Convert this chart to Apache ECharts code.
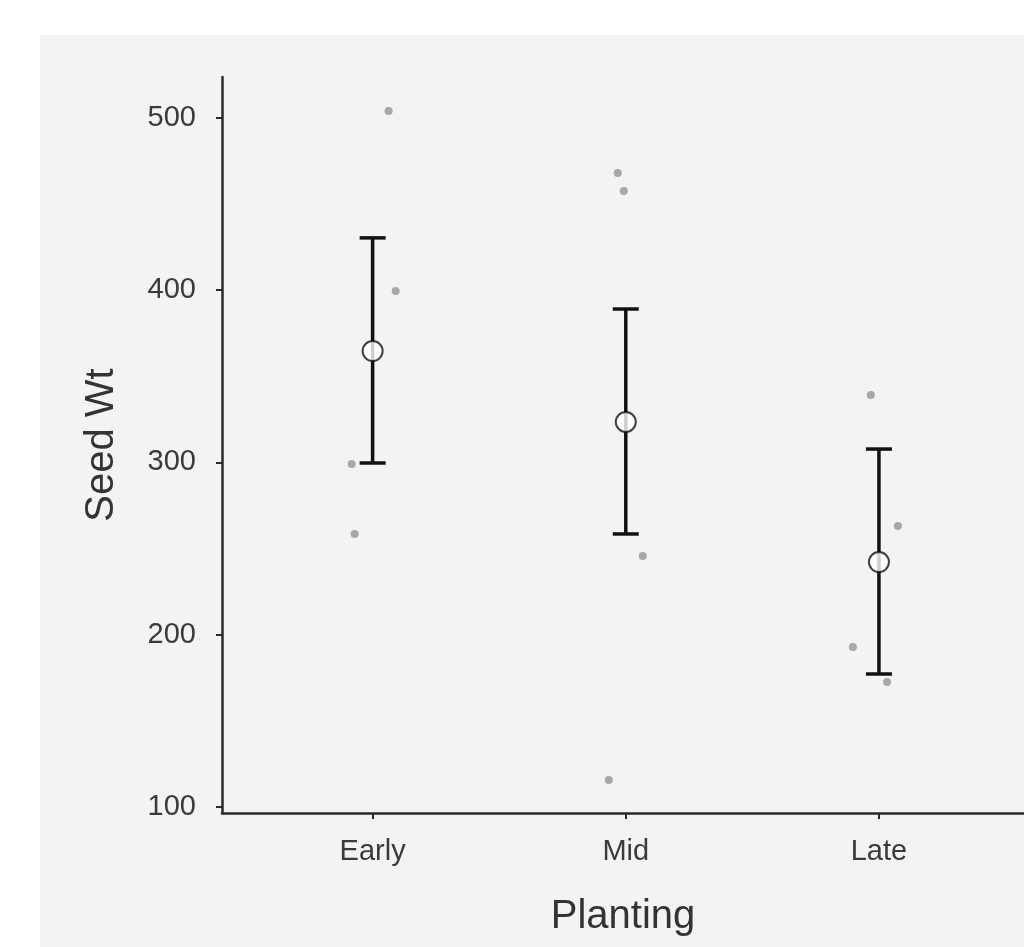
<!DOCTYPE html>
<html>
<head>
<meta charset="utf-8">
<script src="https://cdn.jsdelivr.net/npm/echarts@6/dist/echarts.min.js"></script>
<style>
  html, body { margin: 0; padding: 0; background: #fff; }
  #panel { position: absolute; left: 40px; top: 35px; width: 984px; height: 912px; background: #f3f2f4; }
  #chart { position: absolute; left: 0; top: 0; width: 1024px; height: 947px; }
</style>
</head>
<body>
<div id="panel"></div>
<div id="chart"></div>
<script>
var categories = ['Early', 'Mid', 'Late'];
// raw observations per planting group
var seedEarly = [504.1, 399.6, 299.1, 258.5];
var seedMid = [468.1, 457.6, 245.7, 115.7];
var seedLate = [339.2, 263.1, 192.9, 172.6];
// horizontal jitter of the raw points (category units)
var jitterEarly = [0.063, 0.091, -0.083, -0.071];
var jitterMid = [-0.032, -0.008, 0.067, -0.067];
var jitterLate = [-0.032, 0.075, -0.103, 0.032];
// summaries
var means = [364.7, 323.5, 242.2];
var lower = [299.7, 258.5, 177.2];
var upper = [430.4, 389.1, 307.8];
var yTicks = [100, 200, 300, 400, 500];

var groups = [seedEarly, seedMid, seedLate];
var jitters = [jitterEarly, jitterMid, jitterLate];
var rawPoints = [];
groups.forEach(function (vals, i) {
    vals.forEach(function (v, j) {
        rawPoints.push([i + 1 + jitters[i][j], v]);
    });
});
var meanPoints = means.map(function (m, i) { return [i + 1, m]; });
var barData = means.map(function (m, i) { return [i + 1, lower[i], upper[i]]; });

var myChart = echarts.init(document.getElementById('chart'), null, { renderer: 'canvas' });
var labelFont = 'Liberation Sans, Arial, sans-serif';
var option = {
    backgroundColor: 'transparent',
    animation: false,
    grid: { left: 222, right: 0, top: 77, bottom: 134 },
    xAxis: {
        type: 'value',
        min: 0.405,
        max: 3.573,
        name: 'Planting',
        nameLocation: 'middle',
        nameGap: 84,
        nameTextStyle: { fontFamily: labelFont, fontSize: 40, color: '#333' },
        splitLine: { show: false },
        axisLine: { lineStyle: { color: '#2a2a2a', width: 2.5 } },
        axisTick: { customValues: [1, 2, 3], length: 6, lineStyle: { color: '#2a2a2a', width: 2 } },
        axisLabel: {
            customValues: [1, 2, 3],
            margin: 24,
            fontFamily: labelFont,
            fontSize: 29,
            color: '#3a3a3a',
            formatter: function (v) { return categories[Math.round(v) - 1]; }
        }
    },
    yAxis: {
        type: 'value',
        min: 96.5,
        max: 523.8,
        name: 'Seed Wt',
        nameLocation: 'middle',
        nameGap: 100,
        nameTextStyle: { fontFamily: labelFont, fontSize: 40, color: '#333' },
        splitLine: { show: false },
        axisLine: { show: true, lineStyle: { color: '#2a2a2a', width: 2.5 } },
        axisTick: { show: true, customValues: yTicks, length: 6, lineStyle: { color: '#2a2a2a', width: 2 } },
        axisLabel: {
            customValues: yTicks,
            margin: 26,
            fontFamily: labelFont,
            fontSize: 29,
            color: '#3a3a3a'
        }
    },
    series: [
        {
            type: 'scatter',
            data: rawPoints,
            symbolSize: 8,
            itemStyle: { color: '#9c9a9e', opacity: 0.85 },
            z: 2
        },
        {
            type: 'custom',
            data: barData,
            z: 3,
            renderItem: function (params, api) {
                var x = api.value(0);
                var lo = api.coord([x, api.value(1)]);
                var hi = api.coord([x, api.value(2)]);
                var hw = 13;
                var style = { stroke: '#111', lineWidth: 3.5 };
                return {
                    type: 'group',
                    children: [
                        { type: 'line', shape: { x1: lo[0], y1: lo[1], x2: hi[0], y2: hi[1] }, style: style },
                        { type: 'line', shape: { x1: hi[0] - hw, y1: hi[1], x2: hi[0] + hw, y2: hi[1] }, style: style },
                        { type: 'line', shape: { x1: lo[0] - hw, y1: lo[1], x2: lo[0] + hw, y2: lo[1] }, style: style }
                    ]
                };
            }
        },
        {
            type: 'scatter',
            data: meanPoints,
            symbolSize: 20,
            itemStyle: { color: '#fff', borderColor: '#111', borderWidth: 2 },
            z: 4
        }
    ]
};
myChart.setOption(option);
</script>
</body>
</html>
